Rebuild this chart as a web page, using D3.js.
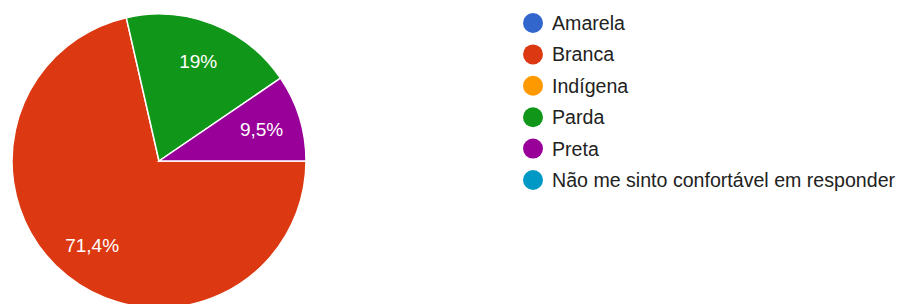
<!DOCTYPE html>
<html><head><meta charset="utf-8">
<script src="https://cdn.jsdelivr.net/npm/d3@7"></script>
<style>html,body{margin:0;padding:0;background:#fff;}svg{display:block;}</style>
</head><body>
<svg id="c" width="898" height="304"></svg>
<script>
const categories = ["Amarela","Branca","Indígena","Parda","Preta","Não me sinto confortável em responder"];
const counts = [0, 15, 0, 4, 2, 0];
const sliceLabels = ["", "71,4%", "", "19%", "9,5%", ""];
const colors = ["#3366cc","#dc3912","#ff9900","#109618","#990099","#0099c6"];

const svg = d3.select("#c");
const cx = 159, cy = 161, R = 147;
const data = categories.map((c,i)=>({cat:c, v:counts[i], label:sliceLabels[i], color:colors[i]}));
const pie = d3.pie().value(d=>d.v).sort(null).startAngle(Math.PI/2).endAngle(Math.PI/2 + 2*Math.PI);
const arcs = pie(data).filter(a=>a.data.v>0);
const arc = d3.arc().innerRadius(0).outerRadius(R);
const labelArc = d3.arc().innerRadius(R*0.73).outerRadius(R*0.73);
const g = svg.append("g").attr("transform",`translate(${cx},${cy})`);
g.selectAll("path").data(arcs).enter().append("path")
  .attr("d",arc).attr("fill",d=>d.data.color).attr("stroke","#fff").attr("stroke-width",1.5);
g.selectAll("text").data(arcs).enter().append("text")
  .attr("transform",d=>`translate(${labelArc.centroid(d)})`)
  .attr("text-anchor","middle").attr("dy","0.36em")
  .attr("font-family","Arial, 'Liberation Sans', sans-serif").attr("font-size",19)
  .attr("fill","#fff").text(d=>d.data.label);

const lg = svg.append("g");
const items = lg.selectAll("g").data(data).enter().append("g")
  .attr("transform",(d,i)=>`translate(533,${23 + i*31.4})`);
items.append("circle").attr("r",10).attr("fill",d=>d.color);
items.append("text").attr("x",19).attr("dy","0.36em")
  .attr("font-family","Arial, 'Liberation Sans', sans-serif").attr("font-size",19.6)
  .attr("fill","#222").text(d=>d.cat);
</script>
</body></html>
